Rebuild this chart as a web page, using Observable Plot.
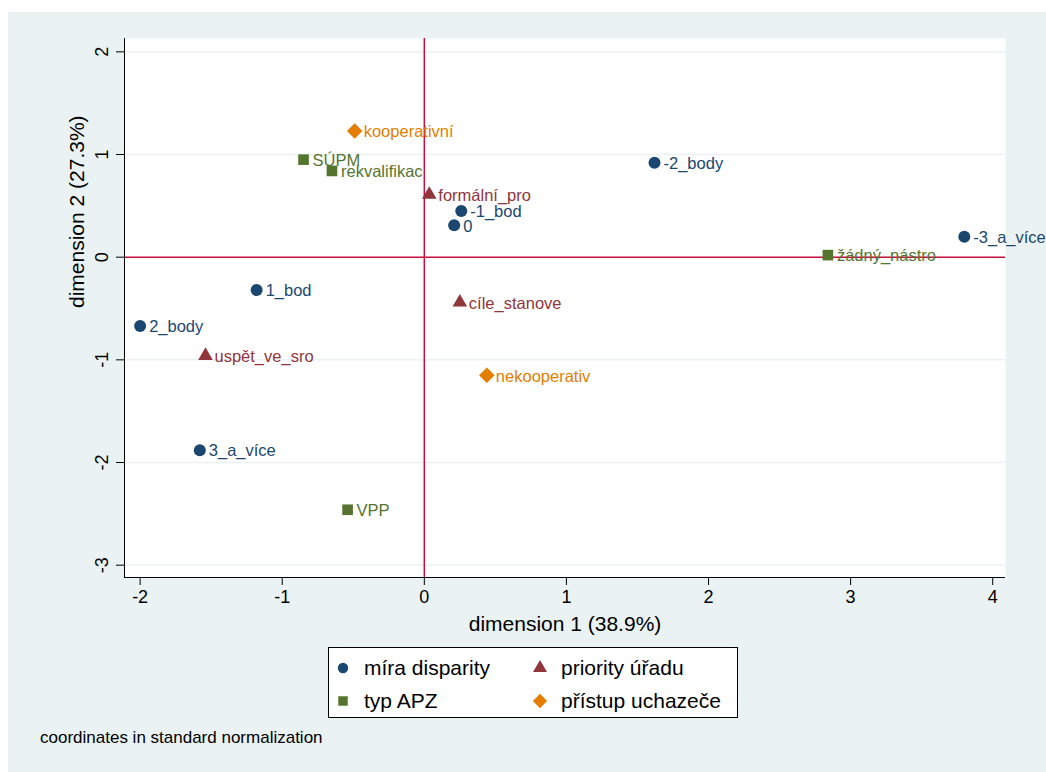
<!DOCTYPE html>
<html>
<head>
<meta charset="utf-8">
<script src="https://cdn.jsdelivr.net/npm/d3@7"></script>
<script src="https://cdn.jsdelivr.net/npm/@observablehq/plot@0.6"></script>
<style>
  html, body { margin: 0; padding: 0; background: #ffffff; }
  #page { position: relative; width: 1046px; height: 772px; overflow: hidden; font-family: "Liberation Sans", Arial, sans-serif; }
  #bg { position: absolute; left: 8px; top: 12px; width: 1038px; height: 760px; background: #eaf2f3; }
  #chart { position: absolute; left: 0; top: 0; }
  #legend { position: absolute; left: 328px; top: 647px; width: 408px; height: 69px; background: #ffffff; border: 1px solid #000; }
  .li { position: absolute; font-size: 21px; color: #000; line-height: 21px; white-space: nowrap; }
  .li svg { position: absolute; left: 0; top: 0; overflow: visible; }
  .li span { position: absolute; top: -11px; }
  #caption { position: absolute; left: 40px; top: 728px; font-size: 17px; color: #000; white-space: nowrap; }
</style>
</head>
<body>
<div id="page">
  <div id="bg"></div>
  <div id="chart"></div>
  <div id="legend"></div>
  <div id="caption"></div>
</div>
<script>
// ---- data ----
const labels = ["-2_body", "-1_bod", "0", "-3_a_více", "1_bod", "2_body", "3_a_více",
                "SÚPM", "rekvalifikac", "žádný_nástro", "VPP",
                "formální_pro", "cíle_stanove", "uspět_ve_sro",
                "kooperativní", "nekooperativ"];
const dim1 = [1.62, 0.26, 0.21, 3.80, -1.18, -2.00, -1.58,
              -0.85, -0.65, 2.84, -0.54,
              0.035, 0.25, -1.54,
              -0.49, 0.44];
const dim2 = [0.92, 0.45, 0.31, 0.20, -0.32, -0.67, -1.88,
              0.95, 0.84, 0.02, -2.46,
              0.61, -0.44, -0.96,
              1.23, -1.15];
const groups = ["míra disparity", "míra disparity", "míra disparity", "míra disparity", "míra disparity", "míra disparity", "míra disparity",
                "typ APZ", "typ APZ", "typ APZ", "typ APZ",
                "priority úřadu", "priority úřadu", "priority úřadu",
                "přístup uchazeče", "přístup uchazeče"];
const groupNames = ["míra disparity", "typ APZ", "priority úřadu", "přístup uchazeče"];
const groupColors = ["#1a476f", "#55752f", "#90353b", "#e37e00"];
const groupSymbols = ["circle", "square", "triangle", "diamond2"];
const xTicks = [-2, -1, 0, 1, 2, 3, 4];
const yTicks = [2, 1, 0, -1, -2, -3];
const xTitle = "dimension 1 (38.9%)";
const yTitle = "dimension 2 (27.3%)";
const caption = "coordinates in standard normalization";

const data = labels.map((l, i) => ({label: l, x: dim1[i], y: dim2[i], group: groups[i]}));
const xDomain = [-2.11, 4.09];
const yDomain = [-3.12, 2.13];
const refColor = "#c8103f";
const symbolR = {"circle": 6, "square": 6, "triangle": 5.4, "diamond2": 7.0};
const fmt = d => String(d);

const dotMarks = groupNames.map((g, i) =>
  Plot.dot(data.filter(d => d.group === g), {x: "x", y: "y", fill: groupColors[i], symbol: groupSymbols[i], r: symbolR[groupSymbols[i]]})
);

const chart = Plot.plot({
  width: 1046,
  height: 640,
  marginLeft: 124,
  marginRight: 41,
  marginTop: 38,
  marginBottom: 63,
  x: {domain: xDomain},
  y: {domain: yDomain},
  color: {domain: groupNames, range: groupColors},
  style: {background: "transparent", fontFamily: "Liberation Sans, Arial, sans-serif", color: "#000"},
  marks: [
    Plot.frame({fill: "white", stroke: null}),
    Plot.gridY(yTicks, {stroke: "#eaf2f3", strokeOpacity: 1, strokeWidth: 1.5}),
    Plot.ruleX([0], {stroke: refColor, strokeWidth: 1.5}),
    Plot.ruleY([0], {stroke: refColor, strokeWidth: 1.5}),
    Plot.ruleX([xDomain[0]], {stroke: "#000", strokeWidth: 1}),
    Plot.ruleY([yDomain[0]], {stroke: "#000", strokeWidth: 1}),
    ...dotMarks,
    Plot.text(data, {x: "x", y: "y", text: "label", fill: "group", textAnchor: "start", dx: 9, dy: 1, fontSize: 16.5}),
    Plot.axisX(xTicks, {tickSize: 8, tickPadding: 5, fontSize: 18, label: null, tickFormat: fmt, stroke: "#000", color: "#000"}),
    Plot.axisY(yTicks, {tickSize: 8, tickPadding: 9, tickRotate: -90, fontSize: 18, label: null, tickFormat: fmt, stroke: "#000", color: "#000"}),
    Plot.text([xTitle], {frameAnchor: "bottom", dy: 47, fontSize: 21, lineAnchor: "middle", fill: "#000"}),
    Plot.text([yTitle], {frameAnchor: "left", dx: -47, rotate: -90, fontSize: 21, lineAnchor: "middle", fill: "#000"})
  ]
});
document.getElementById("chart").appendChild(chart);

// ---- legend ----
const legend = document.getElementById("legend");
const legendPos = [[14, 20], [14, 53], [211, 20], [211, 53]];
const symMap = {circle: d3.symbolCircle, square: d3.symbolSquare, triangle: d3.symbolTriangle, diamond2: d3.symbolDiamond2};
const legendSize = {circle: 85, square: 90, triangle: 85, diamond2: 130};
groupNames.forEach((g, i) => {
  const item = document.createElement("div");
  item.className = "li";
  item.style.left = legendPos[i][0] + "px";
  item.style.top = legendPos[i][1] + "px";
  const path = d3.symbol(symMap[groupSymbols[i]], legendSize[groupSymbols[i]])();
  item.innerHTML = `<svg width="1" height="1"><path d="${path}" fill="${groupColors[i]}"></path></svg><span style="left:21px">${g}</span>`;
  legend.appendChild(item);
});
document.getElementById("caption").textContent = caption;
</script>
</body>
</html>
